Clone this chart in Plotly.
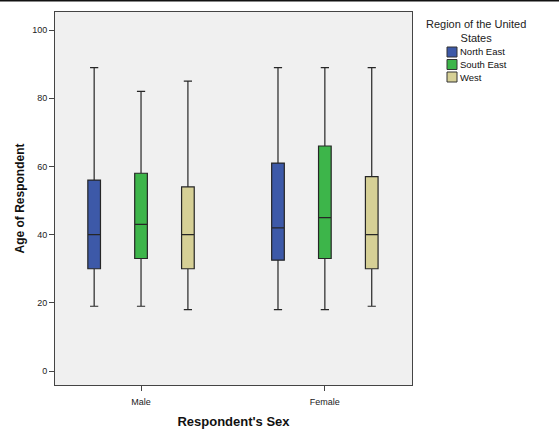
import plotly.graph_objects as go

sexes = ["Male", "Female"]
regions = ["North East", "South East", "West"]
colors = ["#3D59A8", "#3DB54A", "#D6D096"]

# per region: values for [Male, Female]
lower = {"North East": [19, 18], "South East": [19, 18], "West": [18, 19]}
q1 = {"North East": [30, 32.5], "South East": [33, 33], "West": [30, 30]}
median = {"North East": [40, 42], "South East": [43, 45], "West": [40, 40]}
q3 = {"North East": [56, 61], "South East": [58, 66], "West": [54, 57]}
upper = {"North East": [89, 89], "South East": [82, 89], "West": [85, 89]}

y_ticks = [0, 20, 40, 60, 80, 100]
legend_title = "Region of the United<br>States"

W, H = 559, 429
L, R, T, B = 55, 147, 12, 44
pw, ph = W - L - R, H - T - B

fig = go.Figure()
for reg, col in zip(regions, colors):
    fig.add_trace(go.Box(
        name=reg, x=sexes,
        q1=q1[reg], median=median[reg], q3=q3[reg],
        lowerfence=lower[reg], upperfence=upper[reg],
        fillcolor=col, line=dict(color="#262626", width=1.2),
        whiskerwidth=0.65, boxpoints=False, showlegend=False,
    ))

def px_x(x):
    return (x - L) / pw

def px_y(y):
    return 1 - (y - T) / ph

shapes = [dict(type="line", xref="paper", yref="paper", x0=px_x(0), x1=px_x(W),
               y0=px_y(0.5), y1=px_y(0.5), line=dict(color="#111111", width=2))]
annotations = [dict(text=legend_title, xref="paper", yref="paper", x=px_x(476), y=px_y(16),
                    xanchor="center", yanchor="top", showarrow=False, align="center",
                    font=dict(size=11, color="#222222"))]
for i, (reg, col) in enumerate(zip(regions, colors)):
    top = 47 + i * 12.5
    shapes.append(dict(type="rect", xref="paper", yref="paper",
                       x0=px_x(447), x1=px_x(457), y0=px_y(top), y1=px_y(top + 10),
                       fillcolor=col, line=dict(color="#333333", width=1)))
    annotations.append(dict(text=reg, xref="paper", yref="paper", x=px_x(458), y=px_y(top + 5),
                            xanchor="left", yanchor="middle", showarrow=False,
                            font=dict(size=9.5, color="#111111")))

fig.update_layout(
    width=W, height=H,
    margin=dict(l=L, r=R, t=T, b=B, autoexpand=False),
    paper_bgcolor="white", plot_bgcolor="#F0F0F0",
    boxmode="group", boxgap=0.235, boxgroupgap=0.73,
    font=dict(family="Arial, Liberation Sans, sans-serif", size=9, color="#222222"),
    showlegend=False,
    xaxis=dict(
        type="category", range=[-0.468, 1.474], automargin=False,
        showline=True, linecolor="#444444", linewidth=1, mirror=True,
        ticks="outside", ticklen=5, tickcolor="#444444", ticklabelstandoff=3,
        showgrid=False, zeroline=False,
        title=dict(text="<b>Respondent's Sex</b>", font=dict(size=13, color="#111111"), standoff=12),
    ),
    yaxis=dict(
        range=[-4.1, 105.3], tickvals=y_ticks, automargin=False,
        showline=True, linecolor="#444444", linewidth=1, mirror=True,
        ticks="outside", ticklen=5, tickcolor="#444444",
        showgrid=False, zeroline=False,
        title=dict(text="<b>Age of Respondent</b>", font=dict(size=12, color="#111111"), standoff=4),
    ),
    shapes=shapes,
    annotations=annotations,
)

fig.write_html("out.html", config={"displayModeBar": False},
               post_script="document.body.style.margin='0';document.body.style.overflow='hidden';")
